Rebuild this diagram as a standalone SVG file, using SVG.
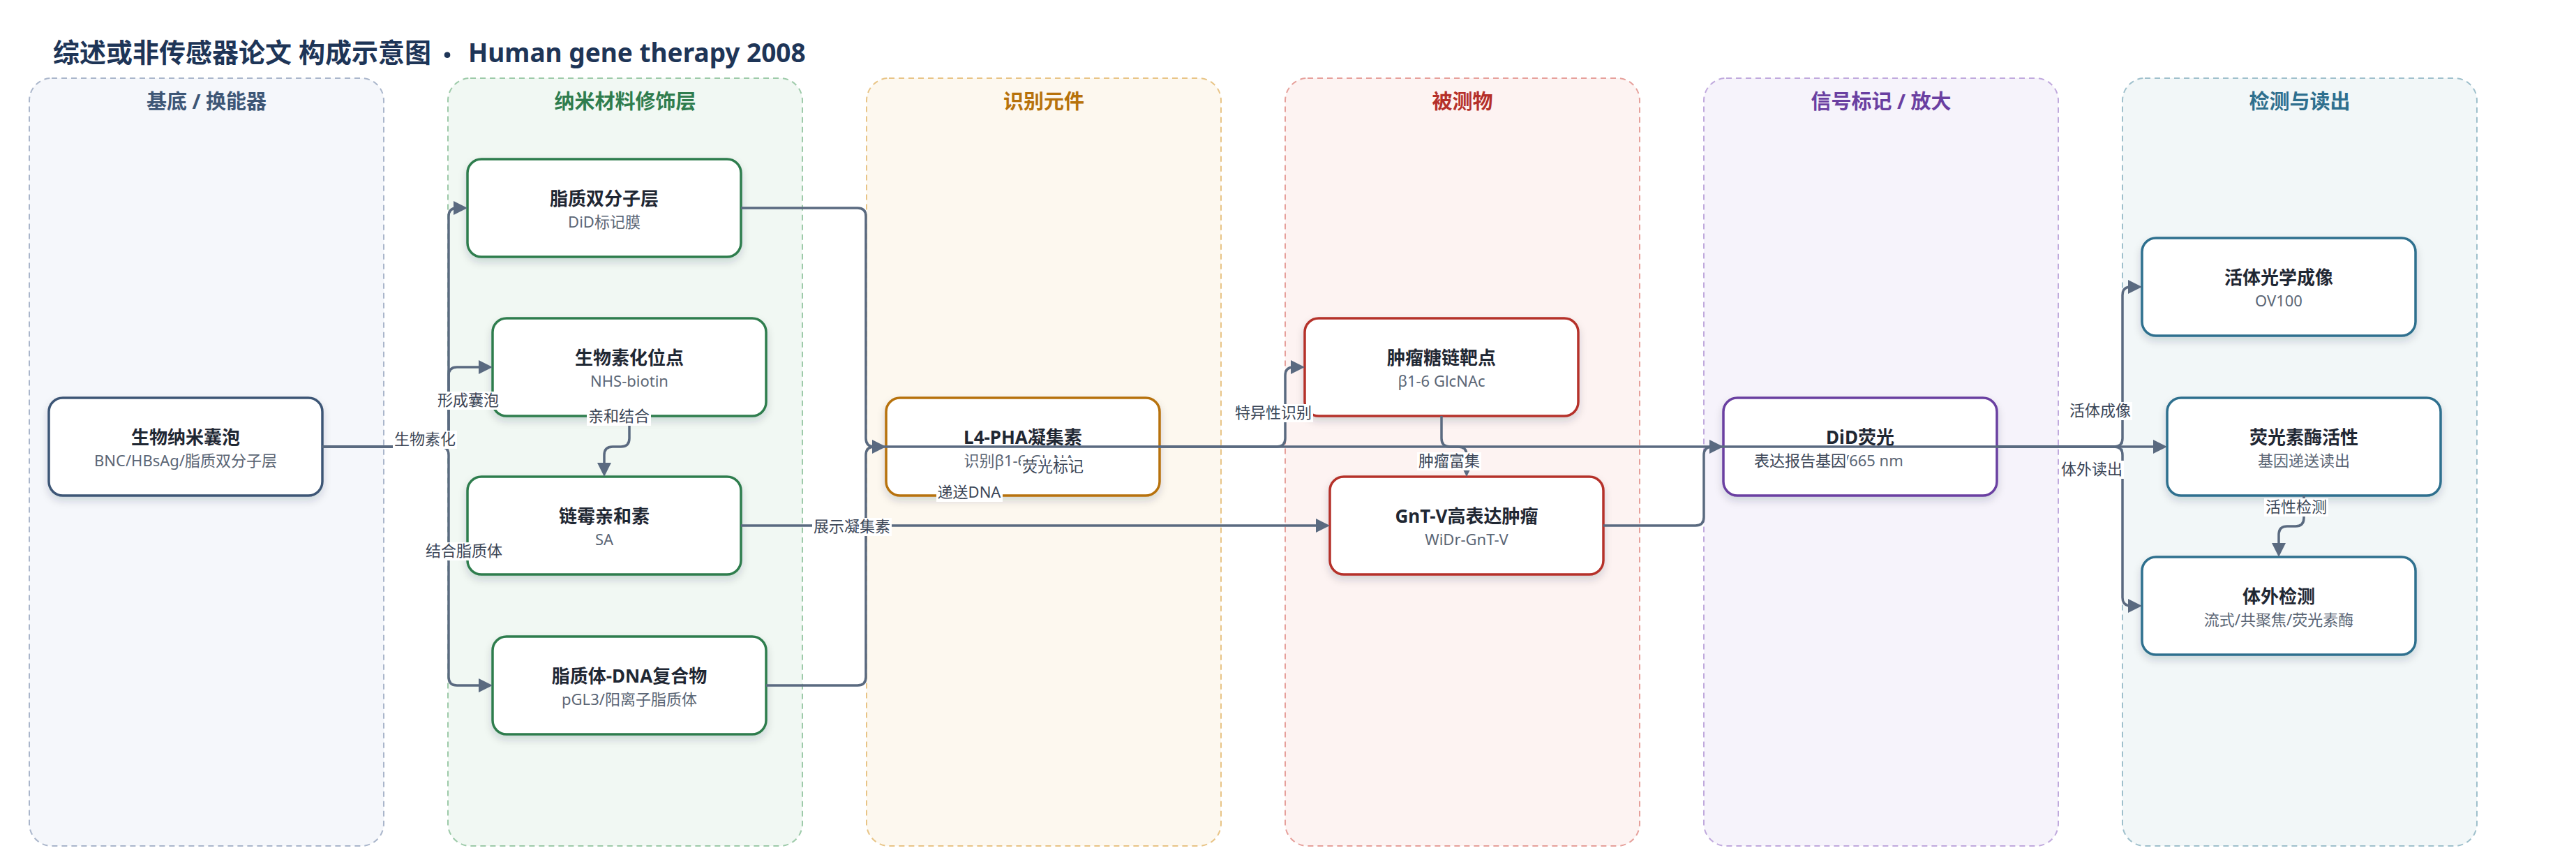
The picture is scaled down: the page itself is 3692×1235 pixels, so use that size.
<svg xmlns="http://www.w3.org/2000/svg" width="3692" height="1235" viewBox="0 0 3692 1235">
<defs>
<style>
text{font-family:'Noto Sans','Noto Sans CJK SC',sans-serif}
.lane{stroke-width:2;stroke-dasharray:8 6}
.lt{font-size:29px;font-weight:700;text-anchor:middle}
.nd{fill:#ffffff;stroke-width:3.5;filter:url(#sh)}
.nt{font-size:26px;font-weight:700;fill:#1f2733;text-anchor:middle}
.ns{font-size:22px;fill:#5b6675;text-anchor:middle}
.e{fill:none;stroke:#5a6a80;stroke-width:3.5;marker-end:url(#arr)}
.lb rect{fill:#ffffff}
.lb text{font-size:22px;fill:#3b4657;text-anchor:middle}
</style>
<marker id="arr" viewBox="0 0 20 20" refX="10" refY="10" markerWidth="20" markerHeight="20" markerUnits="userSpaceOnUse" orient="auto"><path d="M0,0 L20,10 L0,20 z" fill="#5a6a80"/></marker>
<filter id="sh" x="-10%" y="-15%" width="120%" height="150%"><feDropShadow dx="0" dy="6" stdDeviation="6" flood-color="#1f2937" flood-opacity="0.16"/></filter>
</defs>
<rect width="3692" height="1235" fill="#ffffff"/>
<text x="76" y="89" font-size="38" font-weight="700" fill="#1e3557">综述或非传感器论文 构成示意图 <tspan x="634" y="97" font-size="50">·</tspan> <tspan x="671" y="89" font-size="37">Human gene therapy 2008</tspan></text>

<g id="lanes">
<g id="lane-1"><rect class="lane" x="42" y="112" width="508" height="1100" rx="32" fill="#f5f7fb" stroke="#aab6cb"/><text class="lt" x="296" y="156" fill="#3d5676">基底 / 换能器</text></g>
<g id="lane-2"><rect class="lane" x="642" y="112" width="508" height="1100" rx="32" fill="#f1f8f3" stroke="#9dcaa9"/><text class="lt" x="896" y="156" fill="#2f7d4e">纳米材料修饰层</text></g>
<g id="lane-3"><rect class="lane" x="1242" y="112" width="508" height="1100" rx="32" fill="#fdf8ef" stroke="#e8c486"/><text class="lt" x="1496" y="156" fill="#b7720b">识别元件</text></g>
<g id="lane-4"><rect class="lane" x="1842" y="112" width="508" height="1100" rx="32" fill="#fdf3f2" stroke="#e6a09b"/><text class="lt" x="2096" y="156" fill="#b5302a">被测物</text></g>
<g id="lane-5"><rect class="lane" x="2442" y="112" width="508" height="1100" rx="32" fill="#f6f3fb" stroke="#c0a9dd"/><text class="lt" x="2696" y="156" fill="#6a3fa1">信号标记 / 放大</text></g>
<g id="lane-6"><rect class="lane" x="3042" y="112" width="508" height="1100" rx="32" fill="#f2f7f8" stroke="#9fc0cc"/><text class="lt" x="3296" y="156" fill="#2e6f8e">检测与读出</text></g>
</g>

<g id="nodes">
<g id="n1"><rect class="nd" x="70" y="570" width="392" height="140" rx="20" stroke="#3d5676"/><text class="nt" x="266" y="636">生物纳米囊泡</text><text class="ns" x="266" y="668">BNC/HBsAg/脂质双分子层</text></g>
<g id="n2"><rect class="nd" x="670" y="228" width="392" height="140" rx="20" stroke="#2f7d4e"/><text class="nt" x="866" y="294">脂质双分子层</text><text class="ns" x="866" y="326">DiD标记膜</text></g>
<g id="n3"><rect class="nd" x="706" y="456" width="392" height="140" rx="20" stroke="#2f7d4e"/><text class="nt" x="902" y="522">生物素化位点</text><text class="ns" x="902" y="554">NHS-biotin</text></g>
<g id="n4"><rect class="nd" x="670" y="683" width="392" height="140" rx="20" stroke="#2f7d4e"/><text class="nt" x="866" y="749">链霉亲和素</text><text class="ns" x="866" y="781">SA</text></g>
<g id="n5"><rect class="nd" x="706" y="912" width="392" height="140" rx="20" stroke="#2f7d4e"/><text class="nt" x="902" y="978">脂质体-DNA复合物</text><text class="ns" x="902" y="1010">pGL3/阳离子脂质体</text></g>
<g id="n6"><rect class="nd" x="1270" y="570" width="392" height="140" rx="20" stroke="#b7720b"/><text class="nt" x="1466" y="636">L4-PHA凝集素</text><text class="ns" x="1466" y="668">识别β1-6 GlcNAc</text></g>
<g id="n7"><rect class="nd" x="1870" y="456" width="392" height="140" rx="20" stroke="#b5302a"/><text class="nt" x="2066" y="522">肿瘤糖链靶点</text><text class="ns" x="2066" y="554">β1-6 GlcNAc</text></g>
<g id="n8"><rect class="nd" x="1906" y="683" width="392" height="140" rx="20" stroke="#b5302a"/><text class="nt" x="2102" y="749">GnT-V高表达肿瘤</text><text class="ns" x="2102" y="781">WiDr-GnT-V</text></g>
<g id="n9"><rect class="nd" x="2470" y="570" width="392" height="140" rx="20" stroke="#6a3fa1"/><text class="nt" x="2666" y="636">DiD荧光</text><text class="ns" x="2666" y="668">644/665 nm</text></g>
<g id="n10"><rect class="nd" x="3070" y="341" width="392" height="140" rx="20" stroke="#2e6f8e"/><text class="nt" x="3266" y="407">活体光学成像</text><text class="ns" x="3266" y="439">OV100</text></g>
<g id="n11"><rect class="nd" x="3106" y="570" width="392" height="140" rx="20" stroke="#2e6f8e"/><text class="nt" x="3302" y="636">荧光素酶活性</text><text class="ns" x="3302" y="668">基因递送读出</text></g>
<g id="n12"><rect class="nd" x="3070" y="798" width="392" height="140" rx="20" stroke="#2e6f8e"/><text class="nt" x="3266" y="864">体外检测</text><text class="ns" x="3266" y="896">流式/共聚焦/荧光素酶</text></g>
</g>

<g id="connectors">
<path class="e" d="M462,640 H631 Q643,640 643,628 V310 Q643,298 655,298 H660"/>
<path class="e" d="M462,640 H631 Q643,640 643,628 V538 Q643,526 655,526 H696"/>
<path class="e" d="M462,640 H631 Q643,640 643,652 V970 Q643,982 655,982 H696"/>
<path class="e" d="M902,596 V628 Q902,640 890,640 H878 Q866,640 866,652 V673"/>
<path class="e" d="M1062,753 H1229 Q1241,753 1241,741 V652 Q1241,640 1253,640 H1260"/>
<path class="e" d="M1098,982 H1229 Q1241,982 1241,970 V765 Q1241,753 1253,753 H1896"/>
<path class="e" d="M1062,298 H1229 Q1241,298 1241,310 V628 Q1241,640 1253,640 H2460"/>
<path class="e" d="M1662,640 H1830 Q1842,640 1842,628 V538 Q1842,526 1854,526 H1860"/>
<path class="e" d="M2066,596 V628 Q2066,640 2078,640 H2090 Q2102,640 2102,652 V673"/>
<path class="e" d="M2298,753 H2430 Q2442,753 2442,741 V652 Q2442,640 2454,640 H3096"/>
<path class="e" d="M2862,640 H3030 Q3042,640 3042,628 V423 Q3042,411 3054,411 H3060"/>
<path class="e" d="M2862,640 H3030 Q3042,640 3042,652 V856 Q3042,868 3054,868 H3060"/>
<path class="e" d="M3302,710 V742 Q3302,754 3290,754 H3278 Q3266,754 3266,766 V788"/>
<g class="lb"><rect x="563" y="617" width="92" height="26"/><text x="609" y="637">生物素化</text></g>
<g class="lb"><rect x="625" y="561" width="92" height="26"/><text x="671" y="581">形成囊泡</text></g>
<g class="lb"><rect x="608" y="777" width="114" height="26"/><text x="665" y="797">结合脂质体</text></g>
<g class="lb"><rect x="841" y="584" width="92" height="26"/><text x="887" y="604">亲和结合</text></g>
<g class="lb"><rect x="1164" y="742" width="114" height="26"/><text x="1221" y="762">展示凝集素</text></g>
<g class="lb"><rect x="1342" y="693" width="95" height="26"/><text x="1389" y="713">递送DNA</text></g>
<g class="lb"><rect x="1463" y="656" width="92" height="26"/><text x="1509" y="676">荧光标记</text></g>
<g class="lb"><rect x="1768" y="579" width="114" height="26"/><text x="1825" y="599">特异性识别</text></g>
<g class="lb"><rect x="2031" y="648" width="92" height="26"/><text x="2077" y="668">肿瘤富集</text></g>
<g class="lb"><rect x="2513" y="648" width="134" height="26"/><text x="2580" y="668">表达报告基因</text></g>
<g class="lb"><rect x="2964" y="576" width="92" height="26"/><text x="3010" y="596">活体成像</text></g>
<g class="lb"><rect x="2952" y="660" width="92" height="26"/><text x="2998" y="680">体外读出</text></g>
<g class="lb"><rect x="3245" y="714" width="92" height="26"/><text x="3291" y="734">活性检测</text></g>
</g>
</svg>
